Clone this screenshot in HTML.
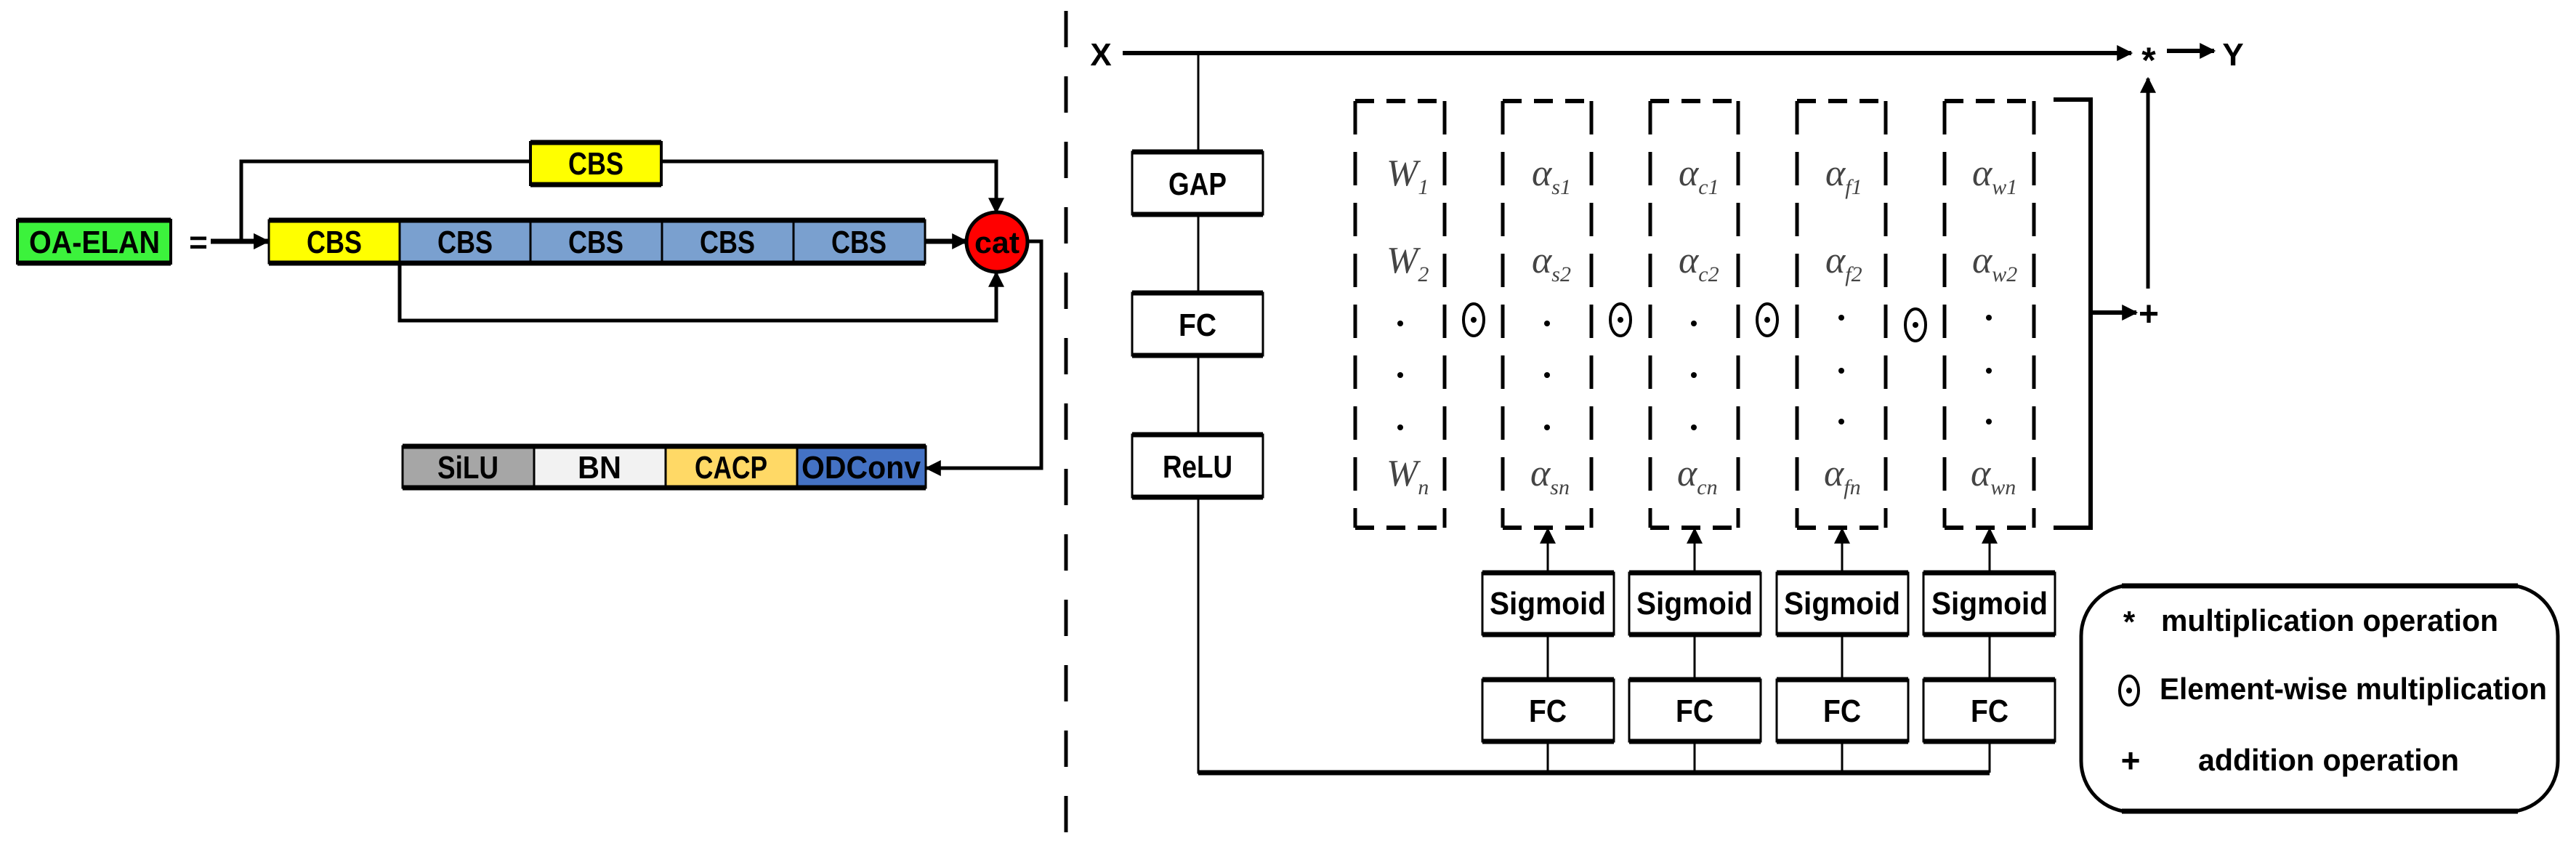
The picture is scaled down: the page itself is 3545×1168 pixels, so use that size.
<!DOCTYPE html>
<html><head><meta charset="utf-8"><style>
html,body{margin:0;padding:0;background:#fff;}
svg{display:block;}
text{font-family:"Liberation Sans",sans-serif;font-weight:bold;}
.s{font-family:"Liberation Serif",serif;font-style:italic;font-weight:normal;fill:#444;}
</style></head><body>
<svg width="3545" height="1168" viewBox="0 0 3545 1168" xmlns="http://www.w3.org/2000/svg">
<defs>
<marker id="a" markerWidth="10" markerHeight="10" refX="9" refY="5" orient="auto" markerUnits="userSpaceOnUse" viewBox="0 0 10 10"><path d="M0,0 L10,5 L0,10z" fill="#000"/></marker>
<marker id="A" viewBox="0 0 10 10" refX="9" refY="5" markerWidth="26" markerHeight="22" orient="auto" markerUnits="userSpaceOnUse"><path d="M0,0 L10,5 L0,10z" fill="#000"/></marker>
</defs>
<g stroke="#000" fill="none">
<!-- left: connectors -->
<polyline points="728,222 332,222 332,332 369,332" stroke-width="5" marker-end="url(#A)"/>
<line x1="290" y1="332" x2="369" y2="332" stroke-width="7" marker-end="url(#A)"/>
<polyline points="909,222 1371,222 1371,292" stroke-width="5" marker-end="url(#A)"/>
<polyline points="550,364 550,441 1371,441 1371,375" stroke-width="5" marker-end="url(#A)"/>
<line x1="1273" y1="332" x2="1330" y2="332" stroke-width="7" marker-end="url(#A)"/>
<polyline points="1414,332 1433,332 1433,644 1275,644" stroke-width="5" marker-end="url(#A)"/>
</g>
<!-- OA-ELAN -->
<rect x="24" y="303" width="211" height="59" fill="#3cf23c" stroke="#000" stroke-width="4"/>
<line x1="24" y1="303" x2="235" y2="303" stroke="#000" stroke-width="7"/><line x1="24" y1="362" x2="235" y2="362" stroke="#000" stroke-width="7"/>
<text x="130" y="348" font-size="44" text-anchor="middle" textLength="180" lengthAdjust="spacingAndGlyphs">OA-ELAN</text>
<text x="273" y="348" font-size="44" text-anchor="middle">=</text>
<!-- top CBS -->
<rect x="730" y="196" width="180" height="58" fill="#ffff00" stroke="#000" stroke-width="4"/>
<line x1="730" y1="196" x2="910" y2="196" stroke="#000" stroke-width="7"/><line x1="730" y1="254" x2="910" y2="254" stroke="#000" stroke-width="7"/>
<text x="820" y="240" font-size="44" text-anchor="middle" textLength="76" lengthAdjust="spacingAndGlyphs">CBS</text>
<!-- main row -->
<rect x="370" y="303" width="180" height="59" fill="#ffff00" stroke="#000" stroke-width="3"/>
<rect x="550" y="303" width="180" height="59" fill="#7aa0cf" stroke="#000" stroke-width="3"/>
<rect x="730" y="303" width="181" height="59" fill="#7aa0cf" stroke="#000" stroke-width="3"/>
<rect x="911" y="303" width="181" height="59" fill="#7aa0cf" stroke="#000" stroke-width="3"/>
<rect x="1092" y="303" width="181" height="59" fill="#7aa0cf" stroke="#000" stroke-width="3"/>
<line x1="370" y1="303" x2="1273" y2="303" stroke="#000" stroke-width="7"/><line x1="370" y1="362" x2="1273" y2="362" stroke="#000" stroke-width="7"/>
<g font-size="44" text-anchor="middle"><text x="460" y="348" textLength="76" lengthAdjust="spacingAndGlyphs">CBS</text><text x="640" y="348" textLength="76" lengthAdjust="spacingAndGlyphs">CBS</text><text x="820" y="348" textLength="76" lengthAdjust="spacingAndGlyphs">CBS</text><text x="1001" y="348" textLength="76" lengthAdjust="spacingAndGlyphs">CBS</text><text x="1182" y="348" textLength="76" lengthAdjust="spacingAndGlyphs">CBS</text></g>
<ellipse cx="1372" cy="333" rx="42" ry="41" fill="#ff0000" stroke="#000" stroke-width="5"/>
<text x="1372" y="348" font-size="42" text-anchor="middle" font-weight="normal" textLength="62" lengthAdjust="spacingAndGlyphs">cat</text>
<!-- bottom row -->
<rect x="554" y="614" width="181" height="57" fill="#a6a6a6" stroke="#000" stroke-width="3"/>
<rect x="735" y="614" width="181" height="57" fill="#f2f2f2" stroke="#000" stroke-width="3"/>
<rect x="916" y="614" width="181" height="57" fill="#ffd966" stroke="#000" stroke-width="3"/>
<rect x="1097" y="614" width="177" height="57" fill="#4472c4" stroke="#000" stroke-width="3"/>
<line x1="554" y1="614" x2="1274" y2="614" stroke="#000" stroke-width="7"/><line x1="554" y1="671" x2="1274" y2="671" stroke="#000" stroke-width="7"/>
<g font-size="44" text-anchor="middle"><text x="644" y="658" textLength="84" lengthAdjust="spacingAndGlyphs">SiLU</text><text x="825" y="658" textLength="60" lengthAdjust="spacingAndGlyphs">BN</text><text x="1006" y="658" textLength="100" lengthAdjust="spacingAndGlyphs">CACP</text><text x="1185" y="658" textLength="164" lengthAdjust="spacingAndGlyphs">ODConv</text></g>
<!-- divider -->
<line x1="1467" y1="15" x2="1467" y2="1168" stroke="#000" stroke-width="5" stroke-dasharray="50 40"/>
<!-- right -->
<text x="1515" y="90" font-size="44" text-anchor="middle">X</text>
<g stroke="#000" fill="none">
<line x1="1545" y1="73" x2="2933" y2="73" stroke-width="6" marker-end="url(#A)"/>
<line x1="2982" y1="70" x2="3047" y2="70" stroke-width="6" marker-end="url(#A)"/>
<polyline points="1649,73 1649,1063 2738,1063" stroke-width="3"/>
<line x1="1649" y1="1063" x2="2738" y2="1063" stroke-width="7"/>
<line x1="2956" y1="397" x2="2956" y2="108" stroke-width="5" marker-end="url(#A)"/>
<polyline points="2826,137 2877,137 2877,726 2826,726" stroke-width="6"/>
<line x1="2877" y1="430" x2="2940" y2="430" stroke-width="6" marker-end="url(#A)"/>
</g>
<text x="2957" y="100" font-size="50" text-anchor="middle">*</text>
<text x="3073" y="90" font-size="44" text-anchor="middle">Y</text>
<text x="2957" y="448" font-size="48" text-anchor="middle">+</text>
<!-- GAP FC ReLU -->
<g>
<rect x="1558" y="209" width="180" height="86" fill="#fff" stroke="#000" stroke-width="3"/>
<line x1="1558" y1="209" x2="1738" y2="209" stroke="#000" stroke-width="7"/><line x1="1558" y1="295" x2="1738" y2="295" stroke="#000" stroke-width="7"/>
<text x="1648" y="268" font-size="44" text-anchor="middle" textLength="80" lengthAdjust="spacingAndGlyphs">GAP</text>
<rect x="1558" y="403" width="180" height="86" fill="#fff" stroke="#000" stroke-width="3"/>
<line x1="1558" y1="403" x2="1738" y2="403" stroke="#000" stroke-width="7"/><line x1="1558" y1="489" x2="1738" y2="489" stroke="#000" stroke-width="7"/>
<text x="1648" y="462" font-size="44" text-anchor="middle" textLength="52" lengthAdjust="spacingAndGlyphs">FC</text>
<rect x="1558" y="598" width="180" height="86" fill="#fff" stroke="#000" stroke-width="3"/>
<line x1="1558" y1="598" x2="1738" y2="598" stroke="#000" stroke-width="7"/><line x1="1558" y1="684" x2="1738" y2="684" stroke="#000" stroke-width="7"/>
<text x="1648" y="657" font-size="44" text-anchor="middle" textLength="96" lengthAdjust="spacingAndGlyphs">ReLU</text>
</g>
<!-- dashed columns -->
<g stroke="#000" fill="none">
<g stroke-width="5" stroke-dasharray="46 24">
<line x1="1865" y1="139" x2="1865" y2="726"/><line x1="1988" y1="139" x2="1988" y2="726"/>
<line x1="2068" y1="139" x2="2068" y2="726"/><line x1="2190" y1="139" x2="2190" y2="726"/>
<line x1="2271" y1="139" x2="2271" y2="726"/><line x1="2392" y1="139" x2="2392" y2="726"/>
<line x1="2473" y1="139" x2="2473" y2="726"/><line x1="2595" y1="139" x2="2595" y2="726"/>
<line x1="2676" y1="139" x2="2676" y2="726"/><line x1="2799" y1="139" x2="2799" y2="726"/>
</g>
<g stroke-width="6" stroke-dasharray="26 17">
<line x1="1865" y1="139" x2="1988" y2="139"/><line x1="1865" y1="726" x2="1988" y2="726"/>
<line x1="2068" y1="139" x2="2190" y2="139"/><line x1="2068" y1="726" x2="2190" y2="726"/>
<line x1="2271" y1="139" x2="2392" y2="139"/><line x1="2271" y1="726" x2="2392" y2="726"/>
<line x1="2473" y1="139" x2="2595" y2="139"/><line x1="2473" y1="726" x2="2595" y2="726"/>
<line x1="2676" y1="139" x2="2799" y2="139"/><line x1="2676" y1="726" x2="2799" y2="726"/>
</g>
</g>
<!-- column text -->
<g font-size="52" class="s">
<text class="s" x="1908" y="255">W<tspan font-size="30" dy="12">1</tspan></text>
<text class="s" x="1908" y="375">W<tspan font-size="30" dy="12">2</tspan></text>
<text class="s" x="1908" y="668">W<tspan font-size="30" dy="12">n</tspan></text>
<text class="s" x="2108" y="255">α<tspan font-size="30" dy="12">s1</tspan></text>
<text class="s" x="2108" y="375">α<tspan font-size="30" dy="12">s2</tspan></text>
<text class="s" x="2106" y="668">α<tspan font-size="30" dy="12">sn</tspan></text>
<text class="s" x="2310" y="255">α<tspan font-size="30" dy="12">c1</tspan></text>
<text class="s" x="2310" y="375">α<tspan font-size="30" dy="12">c2</tspan></text>
<text class="s" x="2308" y="668">α<tspan font-size="30" dy="12">cn</tspan></text>
<text class="s" x="2512" y="255">α<tspan font-size="30" dy="12">f1</tspan></text>
<text class="s" x="2512" y="375">α<tspan font-size="30" dy="12">f2</tspan></text>
<text class="s" x="2510" y="668">α<tspan font-size="30" dy="12">fn</tspan></text>
<text class="s" x="2714" y="255">α<tspan font-size="30" dy="12">w1</tspan></text>
<text class="s" x="2714" y="375">α<tspan font-size="30" dy="12">w2</tspan></text>
<text class="s" x="2712" y="668">α<tspan font-size="30" dy="12">wn</tspan></text>
</g>
<g fill="#000">
<circle cx="1927" cy="445" r="4"/><circle cx="1927" cy="516" r="4"/><circle cx="1927" cy="588" r="4"/>
<circle cx="2129" cy="445" r="4"/><circle cx="2129" cy="516" r="4"/><circle cx="2129" cy="588" r="4"/>
<circle cx="2331" cy="445" r="4"/><circle cx="2331" cy="516" r="4"/><circle cx="2331" cy="588" r="4"/>
<circle cx="2534" cy="437" r="4"/><circle cx="2534" cy="510" r="4"/><circle cx="2534" cy="580" r="4"/>
<circle cx="2737" cy="437" r="4"/><circle cx="2737" cy="510" r="4"/><circle cx="2737" cy="580" r="4"/>
</g>
<!-- odot -->
<g stroke="#000" stroke-width="4" fill="none">
<ellipse cx="2028" cy="440" rx="14" ry="22"/><ellipse cx="2230" cy="440" rx="14" ry="22"/><ellipse cx="2432" cy="440" rx="14" ry="22"/><ellipse cx="2636" cy="447" rx="14" ry="22"/>
</g>
<g fill="#000"><circle cx="2028" cy="440" r="4"/><circle cx="2230" cy="440" r="4"/><circle cx="2432" cy="440" r="4"/><circle cx="2636" cy="447" r="4"/></g>
<!-- sigmoid & FC -->
<g stroke="#000" fill="none" stroke-width="3">
<line x1="2130" y1="1063" x2="2130" y2="728" marker-end="url(#A)"/>
<line x1="2332" y1="1063" x2="2332" y2="728" marker-end="url(#A)"/>
<line x1="2535" y1="1063" x2="2535" y2="728" marker-end="url(#A)"/>
<line x1="2738" y1="1063" x2="2738" y2="728" marker-end="url(#A)"/>
</g>
<g font-size="44" text-anchor="middle">
<g>
<rect x="2040" y="788" width="181" height="85" fill="#fff" stroke="#000" stroke-width="3"/><line x1="2040" y1="788" x2="2221" y2="788" stroke="#000" stroke-width="7"/><line x1="2040" y1="873" x2="2221" y2="873" stroke="#000" stroke-width="7"/>
<text x="2130" y="845" textLength="160" lengthAdjust="spacingAndGlyphs">Sigmoid</text>
<rect x="2040" y="935" width="181" height="85" fill="#fff" stroke="#000" stroke-width="3"/><line x1="2040" y1="935" x2="2221" y2="935" stroke="#000" stroke-width="7"/><line x1="2040" y1="1020" x2="2221" y2="1020" stroke="#000" stroke-width="7"/>
<text x="2130" y="993" textLength="52" lengthAdjust="spacingAndGlyphs">FC</text>
</g>
<g>
<rect x="2242" y="788" width="181" height="85" fill="#fff" stroke="#000" stroke-width="3"/><line x1="2242" y1="788" x2="2423" y2="788" stroke="#000" stroke-width="7"/><line x1="2242" y1="873" x2="2423" y2="873" stroke="#000" stroke-width="7"/>
<text x="2332" y="845" textLength="160" lengthAdjust="spacingAndGlyphs">Sigmoid</text>
<rect x="2242" y="935" width="181" height="85" fill="#fff" stroke="#000" stroke-width="3"/><line x1="2242" y1="935" x2="2423" y2="935" stroke="#000" stroke-width="7"/><line x1="2242" y1="1020" x2="2423" y2="1020" stroke="#000" stroke-width="7"/>
<text x="2332" y="993" textLength="52" lengthAdjust="spacingAndGlyphs">FC</text>
</g>
<g>
<rect x="2445" y="788" width="181" height="85" fill="#fff" stroke="#000" stroke-width="3"/><line x1="2445" y1="788" x2="2626" y2="788" stroke="#000" stroke-width="7"/><line x1="2445" y1="873" x2="2626" y2="873" stroke="#000" stroke-width="7"/>
<text x="2535" y="845" textLength="160" lengthAdjust="spacingAndGlyphs">Sigmoid</text>
<rect x="2445" y="935" width="181" height="85" fill="#fff" stroke="#000" stroke-width="3"/><line x1="2445" y1="935" x2="2626" y2="935" stroke="#000" stroke-width="7"/><line x1="2445" y1="1020" x2="2626" y2="1020" stroke="#000" stroke-width="7"/>
<text x="2535" y="993" textLength="52" lengthAdjust="spacingAndGlyphs">FC</text>
</g>
<g>
<rect x="2647" y="788" width="181" height="85" fill="#fff" stroke="#000" stroke-width="3"/><line x1="2647" y1="788" x2="2828" y2="788" stroke="#000" stroke-width="7"/><line x1="2647" y1="873" x2="2828" y2="873" stroke="#000" stroke-width="7"/>
<text x="2738" y="845" textLength="160" lengthAdjust="spacingAndGlyphs">Sigmoid</text>
<rect x="2647" y="935" width="181" height="85" fill="#fff" stroke="#000" stroke-width="3"/><line x1="2647" y1="935" x2="2828" y2="935" stroke="#000" stroke-width="7"/><line x1="2647" y1="1020" x2="2828" y2="1020" stroke="#000" stroke-width="7"/>
<text x="2738" y="993" textLength="52" lengthAdjust="spacingAndGlyphs">FC</text>
</g>
</g>
<!-- legend -->
<rect x="2864" y="805" width="656" height="312" rx="70" ry="70" fill="#fff" stroke="#000" stroke-width="5"/>
<line x1="2920" y1="806" x2="3465" y2="806" stroke="#000" stroke-width="7"/><line x1="2920" y1="1116" x2="3465" y2="1116" stroke="#000" stroke-width="7"/>
<text x="2930" y="870" font-size="42" text-anchor="middle">*</text>
<text x="2974" y="868" font-size="42" textLength="464" lengthAdjust="spacingAndGlyphs">multiplication operation</text>
<ellipse cx="2930" cy="950" rx="13" ry="20" fill="none" stroke="#000" stroke-width="4"/><circle cx="2930" cy="950" r="4" fill="#000"/>
<text x="2972" y="962" font-size="42" textLength="533" lengthAdjust="spacingAndGlyphs">Element-wise multiplication</text>
<text x="2932" y="1062" font-size="46" text-anchor="middle" font-weight="normal">+</text>
<text x="3025" y="1060" font-size="42" textLength="359" lengthAdjust="spacingAndGlyphs">addition operation</text>
</svg>
</body></html>
